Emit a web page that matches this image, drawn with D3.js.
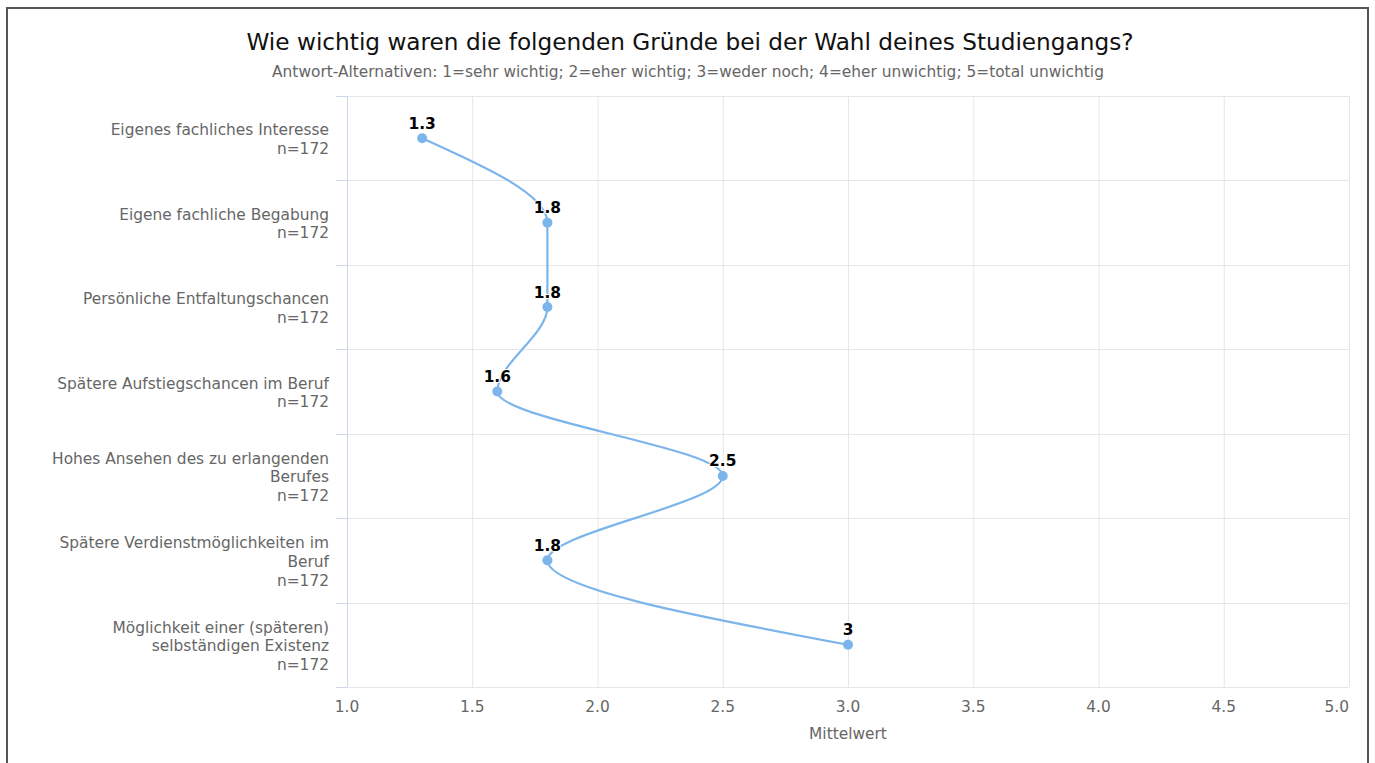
<!DOCTYPE html>
<html>
<head>
<meta charset="utf-8">
<script src="https://cdn.jsdelivr.net/npm/d3@7"></script>
<style>
  body { margin: 0; background: #fff; }
  svg { font-family: "DejaVu Sans", sans-serif; }
</style>
</head>
<body>
<script>
// chart data
var categories = [
  "Eigenes fachliches Interesse",
  "Eigene fachliche Begabung",
  "Persönliche Entfaltungschancen",
  "Spätere Aufstiegschancen im Beruf",
  "Hohes Ansehen des zu erlangenden Berufes",
  "Spätere Verdienstmöglichkeiten im Beruf",
  "Möglichkeit einer (späteren) selbständigen Existenz"
];
var counts = [172, 172, 172, 172, 172, 172, 172];
var means = [1.3, 1.8, 1.8, 1.6, 2.5, 1.8, 3];
var valueLabels = ["1.3", "1.8", "1.8", "1.6", "2.5", "1.8", "3"];
var xTicks = [1.0, 1.5, 2.0, 2.5, 3.0, 3.5, 4.0, 4.5, 5.0];

var title = "Wie wichtig waren die folgenden Gründe bei der Wahl deines Studiengangs?";
var subtitle = "Antwort-Alternativen: 1=sehr wichtig; 2=eher wichtig; 3=weder noch; 4=eher unwichtig; 5=total unwichtig";
var xTitle = "Mittelwert";

var width = 1375, height = 763;
var plot = { left: 347, right: 1349, top: 96, bottom: 687 };
var fs = 15.4;

var svg = d3.select("body").append("svg")
  .attr("width", width)
  .attr("height", height);

// outer frame
svg.append("rect")
  .attr("x", 7).attr("y", 8)
  .attr("width", 1361).attr("height", 780)
  .attr("fill", "none")
  .attr("stroke", "#555")
  .attr("stroke-width", 2);

svg.append("text")
  .attr("x", 690).attr("y", 50)
  .attr("text-anchor", "middle")
  .attr("font-size", 23.2)
  .attr("fill", "#111")
  .text(title);

svg.append("text")
  .attr("x", 688).attr("y", 76.5)
  .attr("text-anchor", "middle")
  .attr("font-size", fs)
  .attr("fill", "#666")
  .text(subtitle);

var x = d3.scaleLinear().domain([1, 5]).range([plot.left, plot.right]);
var yBand = d3.scaleBand().domain(d3.range(categories.length)).range([plot.top, plot.bottom]);
var y = function (i) { return yBand(i) + yBand.bandwidth() / 2; };

// vertical grid
svg.append("g")
  .selectAll("line")
  .data(xTicks)
  .enter().append("line")
  .attr("x1", function (d) { return x(d) + 0.5; })
  .attr("x2", function (d) { return x(d) + 0.5; })
  .attr("y1", plot.top)
  .attr("y2", plot.bottom)
  .attr("stroke", "#e6e6e6");

// horizontal grid at band edges + category ticks
var edges = d3.range(categories.length + 1).map(function (i) {
  return i < categories.length ? yBand(i) : plot.bottom;
});
svg.append("g")
  .selectAll("line")
  .data(edges)
  .enter().append("line")
  .attr("x1", plot.left)
  .attr("x2", plot.right)
  .attr("y1", function (d) { return Math.round(d) + 0.5; })
  .attr("y2", function (d) { return Math.round(d) + 0.5; })
  .attr("stroke", "#e6e6e6");

svg.append("g")
  .selectAll("line")
  .data(edges)
  .enter().append("line")
  .attr("x1", plot.left - 11)
  .attr("x2", plot.left)
  .attr("y1", function (d) { return Math.round(d) + 0.5; })
  .attr("y2", function (d) { return Math.round(d) + 0.5; })
  .attr("stroke", "#ccd6eb");

svg.append("line")
  .attr("x1", plot.left + 0.5).attr("x2", plot.left + 0.5)
  .attr("y1", plot.top).attr("y2", plot.bottom)
  .attr("stroke", "#ccd6eb");

// x tick labels (last one kept inside the plot)
svg.append("g")
  .selectAll("text")
  .data(xTicks)
  .enter().append("text")
  .attr("x", function (d, i) { return i === xTicks.length - 1 ? x(d) : x(d); })
  .attr("y", 712)
  .attr("text-anchor", function (d, i) { return i === xTicks.length - 1 ? "end" : "middle"; })
  .attr("font-size", fs)
  .attr("fill", "#666")
  .text(function (d) { return d.toFixed(1); });

svg.append("text")
  .attr("x", (plot.left + plot.right) / 2)
  .attr("y", 738.5)
  .attr("text-anchor", "middle")
  .attr("font-size", fs)
  .attr("fill", "#666")
  .text(xTitle);

// category labels, wrapped
var measure = svg.append("text").attr("font-size", fs).attr("visibility", "hidden");
function wrap(str, maxW) {
  var words = str.split(" "), lines = [], cur = "";
  words.forEach(function (w) {
    var test = cur ? cur + " " + w : w;
    measure.text(test);
    if (cur && measure.node().getComputedTextLength() > maxW) {
      lines.push(cur);
      cur = w;
    } else {
      cur = test;
    }
  });
  lines.push(cur);
  return lines;
}

var lineH = 18.7;
categories.forEach(function (c, i) {
  var lines = wrap(c, 290).concat(["n=" + counts[i]]);
  var t = svg.append("text")
    .attr("text-anchor", "end")
    .attr("font-size", fs)
    .attr("fill", "#666");
  var y0 = y(i) - (lines.length - 1) * lineH / 2 + 6.5;
  lines.forEach(function (l, k) {
    t.append("tspan")
      .attr("x", 329)
      .attr("y", y0 + k * lineH)
      .text(l);
  });
});
measure.remove();

// series
var line = d3.line()
  .x(function (d, i) { return x(d); })
  .y(function (d, i) { return y(i); })
  .curve(d3.curveMonotoneY);

svg.append("path")
  .datum(means)
  .attr("d", line)
  .attr("fill", "none")
  .attr("stroke", "#7cb5ec")
  .attr("stroke-width", 2.2);

svg.append("g")
  .selectAll("circle")
  .data(means)
  .enter().append("circle")
  .attr("cx", function (d) { return x(d); })
  .attr("cy", function (d, i) { return y(i); })
  .attr("r", 5)
  .attr("fill", "#7cb5ec");

svg.append("g")
  .selectAll("text")
  .data(means)
  .enter().append("text")
  .attr("x", function (d) { return x(d); })
  .attr("y", function (d, i) { return y(i) - 9.5; })
  .attr("text-anchor", "middle")
  .attr("font-size", fs)
  .attr("font-weight", "bold")
  .attr("fill", "#000")
  .attr("stroke", "#fff")
  .attr("stroke-width", 2)
  .attr("stroke-linejoin", "round")
  .attr("paint-order", "stroke")
  .text(function (d, i) { return valueLabels[i]; });
</script>
</body>
</html>
